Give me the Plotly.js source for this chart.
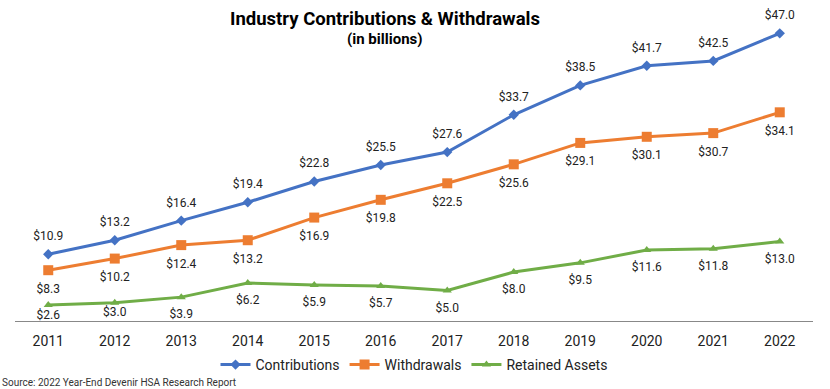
<!DOCTYPE html>
<html>
<head>
<meta charset="utf-8">
<script src="https://cdn.plot.ly/plotly-3.0.1.min.js"></script>
<style>html,body{margin:0;padding:0;background:#fff;}#chart{width:830px;height:389px;}</style>
</head>
<body>
<div id="chart"></div>
<script>
const years = ['2011','2012','2013','2014','2015','2016','2017','2018','2019','2020','2021','2022'];
const contributions = [10.9, 13.2, 16.4, 19.4, 22.8, 25.5, 27.6, 33.7, 38.5, 41.7, 42.5, 47.0];
const withdrawals = [8.3, 10.2, 12.4, 13.2, 16.9, 19.8, 22.5, 25.6, 29.1, 30.1, 30.7, 34.1];
const retained = [2.6, 3.0, 3.9, 6.2, 5.9, 5.7, 5.0, 8.0, 9.5, 11.6, 11.8, 13.0];

const fmt = v => '$' + v.toFixed(1);
const labelFont = {family: 'Roboto, Arial, sans-serif', size: 12, color: '#222'};

function series(name, y, color, symbol, msize) {
  return {name: name, x: years, y: y, type: 'scatter', mode: 'lines+markers',
          line: {color: color, width: 3}, marker: {symbol: symbol, size: msize, color: color}};
}
function labels(y, pos, offsetSize) {
  return {x: years, y: y, type: 'scatter', mode: 'markers+text', showlegend: false, hoverinfo: 'skip',
          marker: {size: offsetSize, opacity: 0, color: '#fff'},
          text: y.map(fmt), textposition: pos, textfont: labelFont, cliponaxis: false};
}

const traces = [
  series('Contributions', contributions, '#4472C4', 'diamond', 8),
  series('Withdrawals', withdrawals, '#ED7D31', 'square', 10),
  series('Retained Assets', retained, '#70AD47', 'triangle-up', 8),
  labels(contributions, 'top center', 16),
  labels(withdrawals, 'bottom center', 20),
  labels(retained, 'bottom center', [6, 6, 18, 18, 18, 18, 18, 18, 18, 18, 18, 18])
];

const layout = {
  width: 830, height: 389,
  margin: {l: 15, r: 17, t: 15, b: 68, autoexpand: false},
  paper_bgcolor: '#fff', plot_bgcolor: '#fff',
  font: {family: 'Roboto, Arial, sans-serif', color: '#222'},
  title: {text: '<b>Industry Contributions & Withdrawals</b>', x: 385/830, xanchor: 'center', xref: 'container',
          y: 1 - 18.5/389, yanchor: 'middle', yref: 'container', font: {size: 18.5, color: '#000'}},
  annotations: [
    {text: '<b>(in billions)</b>', xref: 'paper', yref: 'paper', x: (385-15)/798, y: 1 - (39.5-15)/306,
     xanchor: 'center', yanchor: 'middle', showarrow: false, font: {size: 15, color: '#000'}},
    {text: 'Source: 2022 Year-End Devenir HSA Research Report', xref: 'paper', yref: 'paper',
     x: -15/798, y: -(382-321)/306, xanchor: 'left', yanchor: 'middle', showarrow: false,
     font: {size: 10, color: '#333'}}
  ],
  xaxis: {type: 'category', range: [-0.5, years.length - 0.5], showgrid: false, zeroline: false, showline: true,
          linecolor: '#888', linewidth: 1,
          ticks: '', tickfont: {size: 14, color: '#222'}, ticklabelstandoff: 7, automargin: false, fixedrange: true},
  yaxis: {range: [0, 50], visible: false, showgrid: false, zeroline: false, automargin: false, fixedrange: true},
  legend: {orientation: 'h', x: 0.5, xanchor: 'center', y: 1 - 365/389, yref: 'container', yanchor: 'middle',
           font: {size: 14, color: '#222'}, traceorder: 'normal', itemwidth: 30},
  showlegend: true
};

Plotly.newPlot('chart', traces, layout, {displayModeBar: false, staticPlot: true});
</script>
</body>
</html>
